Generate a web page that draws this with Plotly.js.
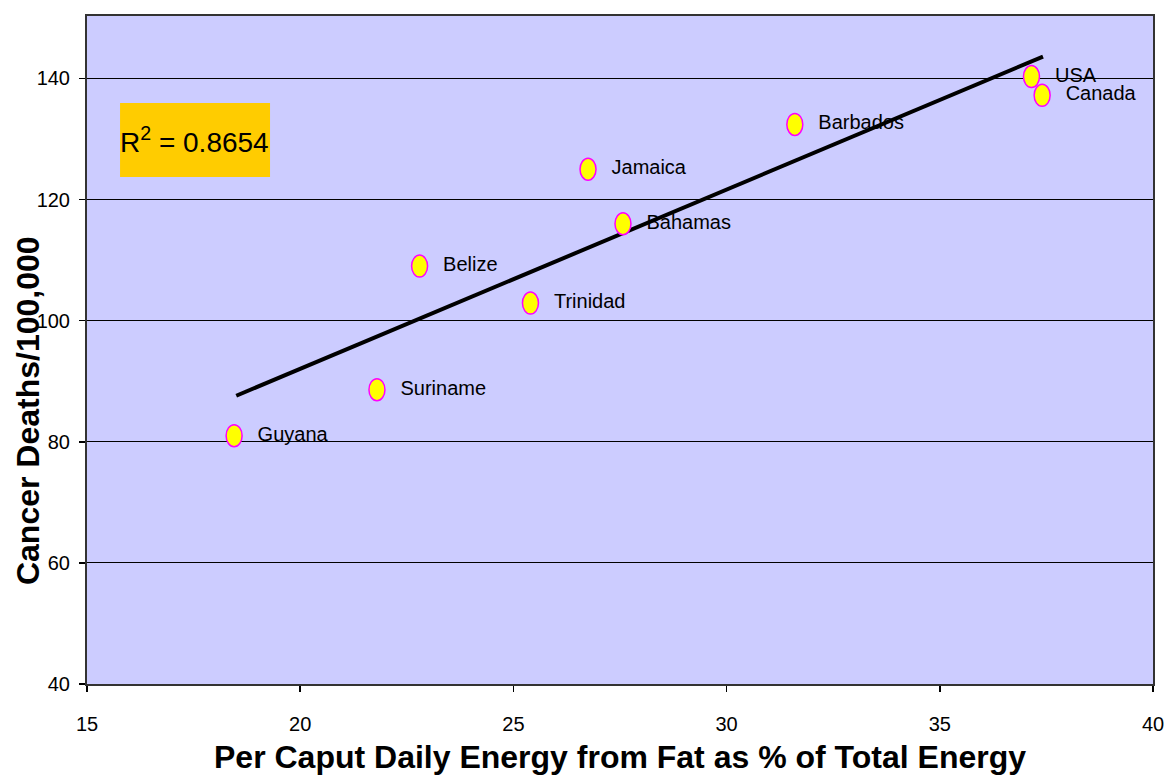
<!DOCTYPE html>
<html>
<head>
<meta charset="utf-8">
<script src="https://cdn.plot.ly/plotly-3.0.1.min.js"></script>
<style>html,body{margin:0;padding:0;background:#fff;}#chart{width:1168px;height:782px;}</style>
</head>
<body>
<div id="chart"></div>
<script>
// Data
const countries = ["Guyana", "Suriname", "Belize", "Trinidad", "Jamaica", "Bahamas", "Barbados", "USA", "Canada"];
const fatPct = [18.45, 21.8, 22.8, 25.4, 26.75, 27.57, 31.6, 37.15, 37.4];
const cancerDeaths = [81.0, 88.6, 109.0, 102.9, 125.0, 116.0, 132.4, 140.3, 137.2];
// Linear trendline end points
const trendX = [18.5, 37.42];
const trendY = [87.6, 143.6];
const rSquaredText = "R<sup>2</sup> = 0.8654";
const xTicks = [15, 20, 25, 30, 35, 40];
const yTicks = [40, 60, 80, 100, 120, 140];
const xTitle = "Per Caput Daily Energy from Fat as % of Total Energy";
const yTitle = "Cancer Deaths/100,000";

const FONT = "Liberation Sans, Arial, sans-serif";

const traces = [
  {
    type: "scatter",
    mode: "lines",
    x: trendX,
    y: trendY,
    line: {color: "#000000", width: 4},
    hoverinfo: "skip",
    showlegend: false
  },
  {
    type: "scatter",
    mode: "markers+text",
    x: fatPct,
    y: cancerDeaths,
    text: countries,
    textposition: "middle right",
    textfont: {family: FONT, size: 20, color: "#000000"},
    marker: {size: 36, color: "rgba(0,0,0,0)", line: {width: 0}},
    showlegend: false
  }
];

// ellipse markers, anchored at data values, sized in pixels
const ellipseShapes = fatPct.map((x, i) => ({
  type: "circle",
  xref: "x", yref: "y",
  xsizemode: "pixel", ysizemode: "pixel",
  xanchor: x, yanchor: cancerDeaths[i],
  x0: -8, x1: 8, y0: -11, y1: 11,
  fillcolor: "#ffff00",
  line: {color: "#ff00ff", width: 1.5},
  layer: "above"
}));

const layout = {
  width: 1168,
  height: 782,
  margin: {l: 87, r: 15, t: 16, b: 98},
  paper_bgcolor: "#ffffff",
  plot_bgcolor: "#ccccff",
  font: {family: FONT, color: "#000000"},
  xaxis: {
    range: [15, 40],
    tickvals: xTicks,
    ticks: "outside",
    ticklen: 6,
    tickcolor: "#000",
    tickwidth: 1.5,
    ticklabelstandoff: 15,
    tickfont: {family: FONT, size: 20, color: "#000"},
    showgrid: false,
    zeroline: false,
    showline: true,
    linecolor: "#333333",
    linewidth: 2,
    mirror: true,
    title: {text: "<b>" + xTitle + "</b>", font: {family: FONT, size: 32, color: "#000"}, standoff: 12}
  },
  yaxis: {
    range: [40, 150.3],
    tickvals: yTicks,
    ticks: "outside",
    ticklen: 6,
    tickcolor: "#000",
    tickwidth: 1.5,
    ticklabelstandoff: 5,
    tickfont: {family: FONT, size: 20, color: "#000"},
    showgrid: true,
    gridcolor: "#000000",
    gridwidth: 1.2,
    zeroline: false,
    showline: true,
    linecolor: "#333333",
    linewidth: 2,
    mirror: true
  },
  shapes: [
    {type: "rect", xref: "paper", yref: "paper", x0: 0.031, x1: 0.1717, y0: 0.759, y1: 0.8698,
     fillcolor: "#ffcc00", line: {width: 0}, layer: "above"}
  ].concat(ellipseShapes),
  annotations: [
    {xref: "paper", yref: "paper", x: 0.1013, y: 0.8144, text: rSquaredText, showarrow: false,
     font: {family: FONT, size: 28, color: "#000"}, xanchor: "center", yanchor: "middle"},
    {xref: "paper", yref: "paper", x: -0.0553, y: 0.4087, text: "<b>" + yTitle + "</b>", showarrow: false,
     textangle: -90, font: {family: FONT, size: 32, color: "#000"}, xanchor: "center", yanchor: "middle"}
  ]
};

Plotly.newPlot("chart", traces, layout, {displayModeBar: false, staticPlot: true});
</script>
</body>
</html>
